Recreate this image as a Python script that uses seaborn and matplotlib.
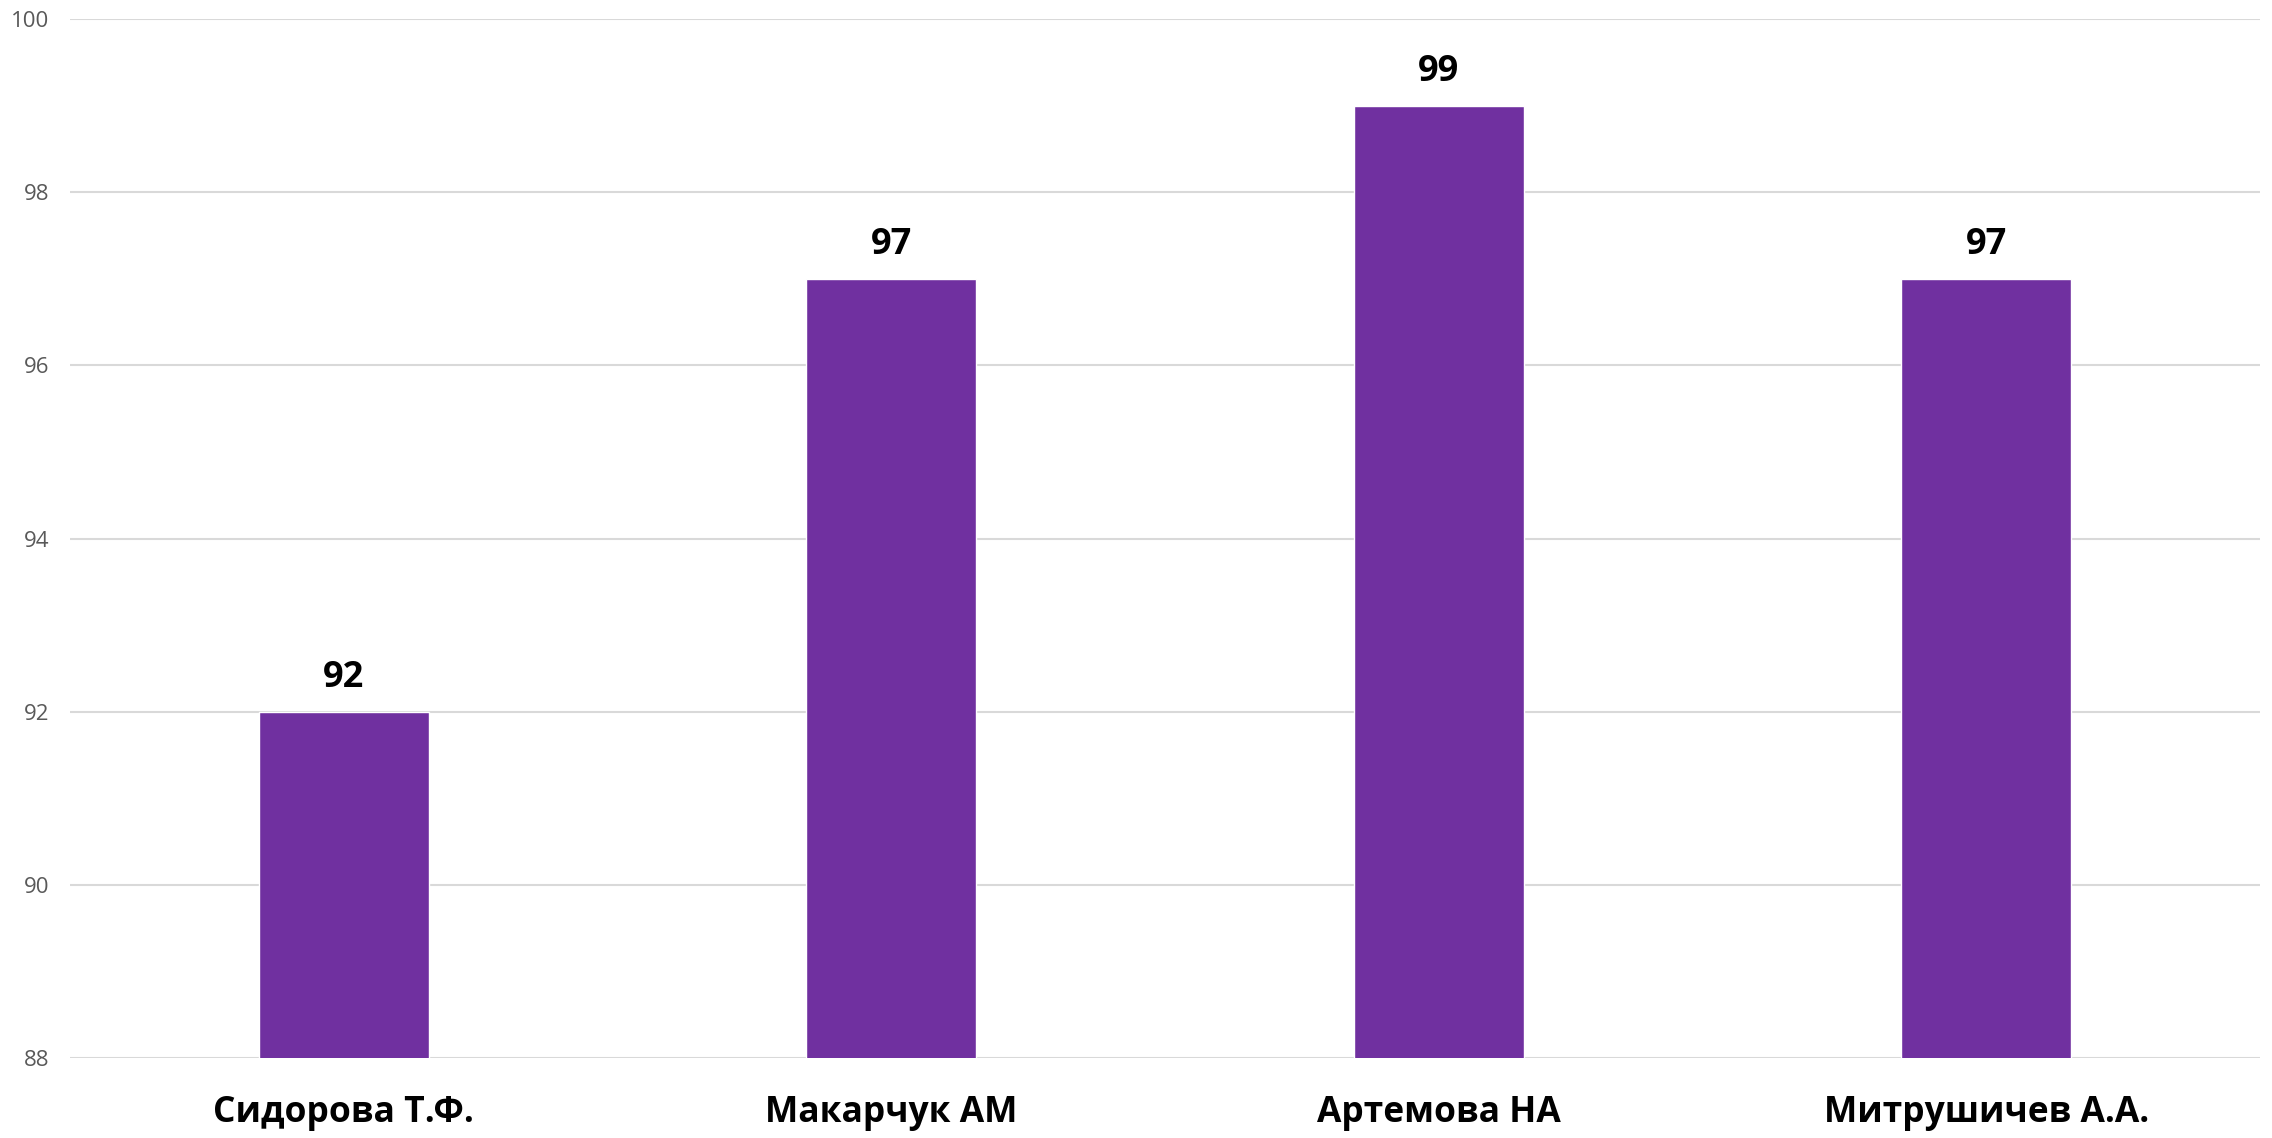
import numpy as np
import pandas as pd
import seaborn as sns
import matplotlib.pyplot as plt

# data
names = ["Сидорова Т.Ф.", "Макарчук АМ", "Артемова НА", "Митрушичев А.А."]
scores = [92, 97, 99, 97]
y_ticks = [88, 90, 92, 94, 96, 98, 100]

sns.set_theme(style="white")
plt.rcParams["font.family"] = ["Open Sans", "DejaVu Sans"]

df = pd.DataFrame({"name": names, "score": scores})

fig = plt.figure(figsize=(22.72, 11.38), dpi=100)
ax = fig.add_axes([0.0308, 0.0703, 0.9639, 0.913])

sns.barplot(data=df, x="name", y="score", color="#7030A0", saturation=1,
            width=0.31, ax=ax, zorder=3)

ax.set_ylim(88, 100)
ax.set_yticks(y_ticks)
ax.set_xlim(-0.5, 3.5)
ax.grid(axis="y", color="#D9D9D9", linewidth=1.5, zorder=0)
ax.set_axisbelow(True)
for s in ax.spines.values():
    s.set_visible(False)

ax.tick_params(axis="y", labelsize=16, labelcolor="#595959", length=0, pad=15)
ax.tick_params(axis="x", labelsize=25.5, labelcolor="black", length=0, pad=27)
for t in ax.get_xticklabels():
    t.set_fontweight("bold")
ax.set_xlabel("")
ax.set_ylabel("")

for c in ax.containers:
    ax.bar_label(c, fmt="%d", padding=11, fontsize=26, fontweight="bold",
                 color="black")

fig.savefig("out.png", dpi=100)
